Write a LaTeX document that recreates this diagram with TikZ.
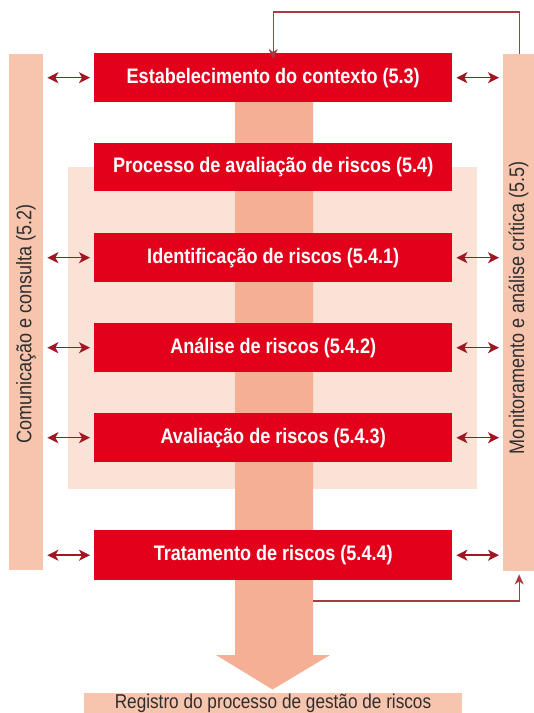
\documentclass[tikz,border=0pt]{standalone}
\usepackage{fontspec}
\setmainfont{Liberation Sans}[FakeStretch=0.86]
\usetikzlibrary{arrows.meta}
\definecolor{boxred}{HTML}{E2001A}
\definecolor{barpink}{HTML}{F7C4AE}
\definecolor{flowpink}{HTML}{F4AF94}
\definecolor{bgpink}{HTML}{FAE2D6}
\definecolor{arrred}{HTML}{A01722}
\definecolor{fbred}{HTML}{A83A42}
\definecolor{txtgray}{HTML}{2E2E2E}
\begin{document}
\begin{tikzpicture}[x=1pt,y=-1pt,
  redbox/.style={fill=boxred, text=white, font=\bfseries\fontsize{21}{24}\selectfont,
    minimum width=358pt, minimum height=49pt, inner sep=0pt, anchor=north west},
  sidebar/.style={fill=barpink, inner sep=0pt, anchor=north west},
  sidetext/.style={rotate=90, text=txtgray, font=\fontsize{21}{24}\selectfont, inner sep=0pt},
  dbl/.style={draw=arrred, line width=1.5pt, {Stealth[length=11pt,width=11pt,inset=3pt]}-{Stealth[length=11pt,width=11pt,inset=3pt]}, shorten <=4pt, shorten >=4pt},
  fb/.style={draw=fbred, line width=1.3pt, -{Stealth[length=10pt,width=9pt,inset=3pt]}}
]
\useasboundingbox (0,0) rectangle (534,713);
\clip (0,0) rectangle (534,713);

% background area of risk assessment
\node[fill=bgpink, inner sep=0pt, minimum width=409pt, minimum height=322pt, anchor=north west] (bg) at (68,167) {};

% central flow arrow
\fill[flowpink] (235,80) -- (313,80) -- (313,655) -- (330,655) -- (272.5,689.5) -- (216,655) -- (235,655) -- cycle;
\coordinate (fbstart) at (313,601);

% red boxes
\node[redbox] (ctx) at (94,53) {Estabelecimento do contexto (5.3)};
\node[redbox, minimum height=48pt] (proc) at (94,143) {Processo de avaliação de riscos (5.4)};
\node[redbox] (ident) at (94,233) {Identificação de riscos (5.4.1)};
\node[redbox] (anal) at (94,323) {Análise de riscos (5.4.2)};
\node[redbox] (aval) at (94,413) {Avaliação de riscos (5.4.3)};
\node[redbox, minimum height=50pt] (trat) at (94,530) {Tratamento de riscos (5.4.4)};

% side bars
\node[sidebar, minimum width=34pt, minimum height=516pt] (lbar) at (9,54) {};
\node[sidebar, minimum width=32pt, minimum height=517pt] (rbar) at (503,54) {};
\node[sidetext] (ltext) at (26,324) {Comunicação e consulta (5.2)};
\node[sidetext] (rtext) at (518.5,307.5) {Monitoramento e análise crítica (5.5)};

% bottom record
\node[sidebar, minimum width=378pt, minimum height=24pt] (reg) at (84,692.5) {};
\node[anchor=base, text=txtgray, font=\fontsize{20}{24}\selectfont, inner sep=0pt] (regtxt) at (273,708.5) {Registro do processo de gestão de riscos};

% double arrows
\foreach \b in {ctx,ident,anal,aval,trat}{
  \draw[dbl] (lbar.east |- \b.west) -- (\b.west);
  \draw[dbl] (\b.east) -- (rbar.west |- \b.east);
}

% feedback loops
\draw[fb] (rbar.north) -- ++(0,-42) -| ([yshift=-6pt]ctx.north);
\draw[fb] (fbstart) -| ([yshift=-3pt]rbar.south);
\end{tikzpicture}
\end{document}
